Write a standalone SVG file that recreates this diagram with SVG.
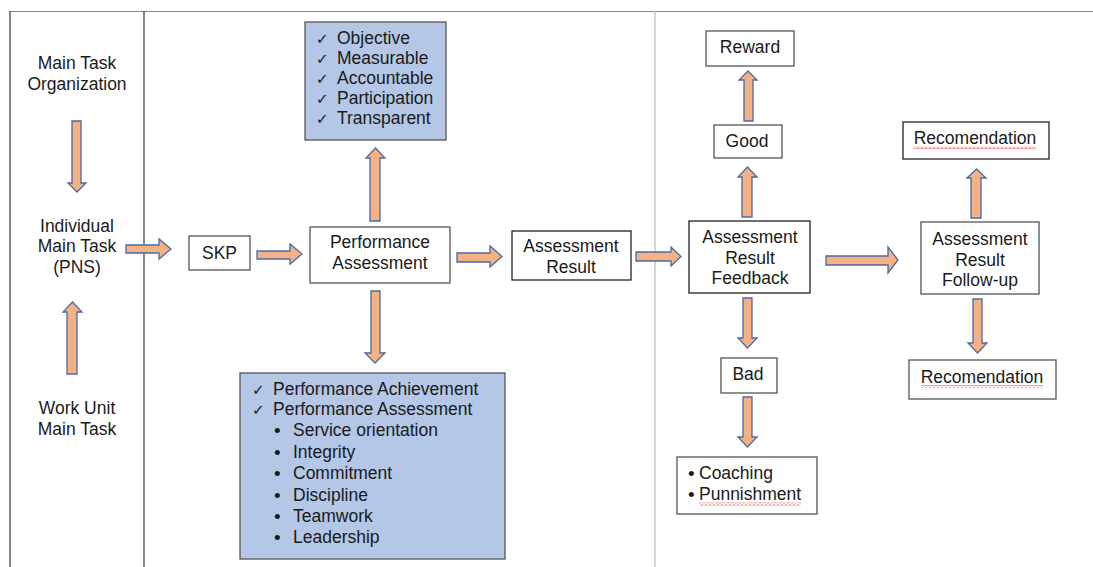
<svg xmlns="http://www.w3.org/2000/svg" width="1093" height="567" viewBox="0 0 1093 567">
<style>
text{font-family:"Liberation Sans","DejaVu Sans",Arial,sans-serif;font-size:17.5px;fill:#1a1a1a}
.c{text-anchor:middle}
.box{fill:#fff;stroke:#555;stroke-width:1.3}
.dbox{fill:#fff;stroke:#222;stroke-width:1.3}
.blue{fill:#b4c7e7;stroke:#555;stroke-width:1.3}
.arr{fill:#f4b183;stroke:#4a6aa5;stroke-width:1.3;stroke-linejoin:miter}
.chk{font-family:"DejaVu Sans",sans-serif;font-size:15px}
.bul{font-size:19px}
</style>
<defs>
<pattern id="wave" width="4" height="3" patternUnits="userSpaceOnUse">
<path d="M0,2.5 L2,0.5 L4,2.5" fill="none" stroke="#e03030" stroke-width="0.9"/>
</pattern>
</defs>
<rect width="1093" height="567" fill="#fff"/>
<g id="frame">
<line x1="10" y1="11.5" x2="1093" y2="11.5" stroke="#888" stroke-width="1.2"/>
<line x1="10" y1="11" x2="10" y2="567" stroke="#444" stroke-width="1.3"/>
<line x1="144" y1="11" x2="144" y2="567" stroke="#444" stroke-width="1.3"/>
<line x1="655" y1="11" x2="655" y2="567" stroke="#c8c8c8" stroke-width="1.5"/>
</g>
<g id="connectors">
<polygon class="arr" points="72,121 81,121 81,183 86,183 77,192 68,183 72,183"/>
<polygon class="arr" points="72.5,302 82,312 77,312 77,374 67,374 67,312 63,312"/>
<polygon class="arr" points="126,245 159,245 159,239 171,249 159,259 159,253 126,253"/>
<polygon class="arr" points="257,251 290,251 290,244 302,254 290,264 290,259 257,259"/>
<polygon class="arr" points="375.5,148 385,158 380,158 380,221 370,221 370,158 366,158"/>
<polygon class="arr" points="457,253 490,253 490,246 502,256.5 490,267 490,262 457,262"/>
<polygon class="arr" points="371,291 380,291 380,353 385,353 375,363 365,353 371,353"/>
<polygon class="arr" points="636,252 671,252 671,247 681,256.5 671,266 671,261 636,261"/>
<polygon class="arr" points="748,71 757,80 753,80 753,121 744,121 744,80 739,80"/>
<polygon class="arr" points="747.5,167 757,177 752,177 752,217 742,217 742,177 738,177"/>
<polygon class="arr" points="826,256 888,256 888,247 898,260 888,273 888,265 826,265"/>
<polygon class="arr" points="976.5,169 986,178 981,178 981,218 971,218 971,178 967,178"/>
<polygon class="arr" points="743,298 752,298 752,338 757,338 747.5,348 738,338 743,338"/>
<polygon class="arr" points="743,397 752,397 752,437 757,437 747.5,447 738,437 743,437"/>
<polygon class="arr" points="973,299 982,299 982,343 987,343 977.5,353 968,343 973,343"/>
</g>
<g id="main-task-org">
<text class="c" x="77" y="69">Main Task</text>
<text class="c" x="77" y="90">Organization</text>
</g>
<g id="individual-main-task">
<text class="c" x="77" y="232">Individual</text>
<text class="c" x="77" y="252">Main Task</text>
<text class="c" x="77" y="273">(PNS)</text>
</g>
<g id="work-unit">
<text class="c" x="77" y="414">Work Unit</text>
<text class="c" x="77" y="435">Main Task</text>
</g>
<g id="skp">
<rect class="box" x="189" y="236" width="61" height="34"/>
<text class="c" x="219.5" y="259">SKP</text>
</g>
<g id="performance-assessment">
<rect class="box" x="310" y="227" width="140" height="56"/>
<text class="c" x="380" y="248">Performance</text>
<text class="c" x="380" y="269">Assessment</text>
</g>
<g id="principles">
<rect class="blue" x="305" y="22" width="141" height="118"/>
<text class="chk" x="316" y="44">✓</text><text x="337" y="44">Objective</text>
<text class="chk" x="316" y="64">✓</text><text x="337" y="64">Measurable</text>
<text class="chk" x="316" y="84">✓</text><text x="337" y="84">Accountable</text>
<text class="chk" x="316" y="104">✓</text><text x="337" y="104">Participation</text>
<text class="chk" x="316" y="124">✓</text><text x="337" y="124">Transparent</text>
</g>
<g id="aspects">
<rect class="blue" x="240" y="373" width="265" height="186"/>
<text class="chk" x="252" y="395">✓</text><text x="273" y="395">Performance Achievement</text>
<text class="chk" x="252" y="415">✓</text><text x="273" y="415">Performance Assessment</text>
<text class="bul" x="274" y="437">•</text><text x="293" y="436">Service orientation</text>
<text class="bul" x="274" y="459">•</text><text x="293" y="458">Integrity</text>
<text class="bul" x="274" y="480">•</text><text x="293" y="479">Commitment</text>
<text class="bul" x="274" y="502">•</text><text x="293" y="501">Discipline</text>
<text class="bul" x="274" y="523">•</text><text x="293" y="522">Teamwork</text>
<text class="bul" x="274" y="544">•</text><text x="293" y="543">Leadership</text>
</g>
<g id="assessment-result">
<rect class="dbox" x="512" y="231" width="119" height="49"/>
<text class="c" x="571" y="252">Assessment</text>
<text class="c" x="571" y="273">Result</text>
</g>
<g id="feedback">
<rect class="dbox" x="689" y="221" width="121" height="72"/>
<text class="c" x="750" y="243">Assessment</text>
<text class="c" x="750" y="264">Result</text>
<text class="c" x="750" y="284">Feedback</text>
</g>
<g id="good">
<rect class="box" x="714" y="125" width="68" height="33"/>
<text class="c" x="747" y="147">Good</text>
</g>
<g id="reward">
<rect class="box" x="706" y="31" width="88" height="35"/>
<text class="c" x="750" y="53">Reward</text>
</g>
<g id="bad">
<rect class="box" x="721" y="358" width="56" height="35"/>
<text class="c" x="748" y="380">Bad</text>
</g>
<g id="coaching">
<rect class="box" x="677" y="457" width="140" height="57"/>
<text class="bul" x="688" y="480">•</text><text x="699" y="479">Coaching</text>
<text class="bul" x="688" y="501">•</text><text x="699" y="500">Punnishment</text>
<rect x="699" y="502.5" width="102" height="3" fill="url(#wave)"/>
</g>
<g id="follow-up">
<rect class="box" x="921" y="222" width="118" height="72"/>
<text class="c" x="980" y="245">Assessment</text>
<text class="c" x="980" y="266">Result</text>
<text class="c" x="980" y="286">Follow-up</text>
</g>
<g id="recomendation-top">
<rect class="dbox" x="903" y="122" width="146" height="37"/>
<text class="c" x="975" y="144">Recomendation</text>
<rect x="914" y="146" width="122" height="3" fill="url(#wave)"/>
</g>
<g id="recomendation-bottom">
<rect class="box" x="909" y="360" width="147" height="39"/>
<text class="c" x="982" y="383">Recomendation</text>
<rect x="921" y="385" width="122" height="3" fill="url(#wave)"/>
</g>
</svg>
